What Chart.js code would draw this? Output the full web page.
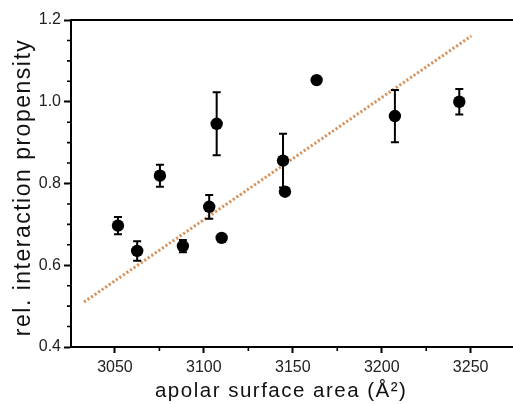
<!DOCTYPE html>
<html><head><meta charset="utf-8">
<script src="https://cdn.jsdelivr.net/npm/chart.js@4"></script>
<style>html,body{margin:0;padding:0;background:#fff;overflow:hidden}#wrap{width:513px;height:404px;position:relative}</style>
</head><body><div id="wrap"><canvas id="c" width="513" height="404"></canvas></div>
<script>
// ---- data ----
const surfaceArea = [3051.7, 3062.5, 3075.3, 3088.2, 3103.0, 3107.2, 3110.0, 3144.5, 3145.6, 3163.4, 3207.4, 3243.6];
const propensity  = [0.697, 0.635, 0.819, 0.647, 0.743, 0.946, 0.667, 0.856, 0.780, 1.053, 0.965, 1.000];
const errorBars   = [0.021, 0.024, 0.027, 0.015, 0.029, 0.077, 0, 0.066, 0, 0, 0.064, 0.031];
const trendX = [3032.6, 3250.4];
const trendY = [0.510, 1.161];
const xTickValues = [3050, 3100, 3150, 3200, 3250];
const xMinorValues = [3075, 3125, 3175, 3225];
const yTickValues = [0.4, 0.6, 0.8, 1.0, 1.2];
const yMinorValues = [0.45, 0.5, 0.55, 0.65, 0.7, 0.75, 0.85, 0.9, 0.95, 1.05, 1.1, 1.15];
const xTitle = 'apolar surface area (Å²)';
const yTitle = 'rel. interaction propensity';

const FONT = "'Liberation Sans', Arial, Helvetica, sans-serif";

const pts = surfaceArea.map((x, i) => ({x, y: propensity[i]}));
const trend = trendX.map((x, i) => ({x, y: trendY[i]}));

const spacingPlugin = {
  id: 'spacing',
  beforeDraw(chart) { chart.ctx.letterSpacing = '1.5px'; },
  beforeDatasetsDraw(chart) { chart.ctx.letterSpacing = '0px'; }
};

const decoPlugin = {
  id: 'deco',
  afterDatasetsDraw(chart) {
    const ctx = chart.ctx, xs = chart.scales.x, ys = chart.scales.y, a = chart.chartArea;
    ctx.save();
    ctx.strokeStyle = '#000';
    ctx.lineWidth = 2;
    surfaceArea.forEach((x, i) => {
      const e = errorBars[i];
      if (!e) return;
      const px = xs.getPixelForValue(x);
      const top = ys.getPixelForValue(propensity[i] + e);
      const bot = ys.getPixelForValue(propensity[i] - e);
      ctx.beginPath();
      ctx.moveTo(px, top); ctx.lineTo(px, bot);
      ctx.moveTo(px - 4, top); ctx.lineTo(px + 4, top);
      ctx.moveTo(px - 4, bot); ctx.lineTo(px + 4, bot);
      ctx.stroke();
    });
    ctx.beginPath();
    ctx.moveTo(a.left - 1, a.top); ctx.lineTo(a.right, a.top);
    ctx.stroke();
    ctx.lineWidth = 1.6;
    ctx.beginPath();
    xMinorValues.forEach(v => {
      const px = xs.getPixelForValue(v);
      ctx.moveTo(px, a.bottom); ctx.lineTo(px, a.bottom + 4);
    });
    yMinorValues.forEach(v => {
      const py = ys.getPixelForValue(v);
      ctx.moveTo(a.left, py); ctx.lineTo(a.left - 4, py);
    });
    ctx.stroke();
    ctx.restore();
  }
};

new Chart(document.getElementById('c'), {
  type: 'scatter',
  data: {
    datasets: [
      {
        data: pts,
        backgroundColor: '#000',
        borderColor: '#000',
        pointRadius: 6.2,
        pointHoverRadius: 6.2,
        borderWidth: 0
      },
      {
        data: trend,
        showLine: true,
        borderColor: '#d8935c',
        borderWidth: 3,
        borderDash: [2.2, 2.1],
        borderCapStyle: 'butt',
        pointRadius: 0,
        fill: false
      }
    ]
  },
  options: {
    responsive: false,
    animation: false,
    events: [],
    layout: {autoPadding: false, padding: {top: 20, right: 0, left: 0, bottom: 0}},
    plugins: {legend: {display: false}, tooltip: {enabled: false}},
    scales: {
      x: {
        type: 'linear',
        min: 3025.3,
        max: 3273.8,
        afterFit(s) { s.height = 57; s.paddingLeft = 0; s.paddingRight = 0; },
        afterBuildTicks(s) { s.ticks = xTickValues.map(v => ({value: v})); },
        grid: {display: true, drawOnChartArea: false, drawTicks: true, tickLength: 6, tickWidth: 2, tickColor: '#000'},
        border: {display: true, color: '#000', width: 2},
        ticks: {z: 1, padding: 5, color: '#222', font: {family: FONT, size: 16}, maxRotation: 0, callback: v => String(v)},
        title: {display: true, text: xTitle + '   ', color: '#111', font: {family: FONT, size: 20.5}, padding: {top: 0, bottom: 0}}
      },
      y: {
        type: 'linear',
        min: 0.4,
        max: 1.2,
        afterFit(s) { s.width = 71; s.paddingTop = 0; s.paddingBottom = 0; },
        afterBuildTicks(s) { s.ticks = yTickValues.map(v => ({value: v})); },
        grid: {display: true, drawOnChartArea: false, drawTicks: true, tickLength: 7, tickWidth: 2, tickColor: '#000'},
        border: {display: true, color: '#000', width: 2},
        ticks: {z: 1, padding: 3, color: '#222', font: {family: FONT, size: 16}, callback: v => Number(v).toFixed(1)},
        title: {display: true, text: yTitle + ' ', color: '#111', font: {family: FONT, size: 23}, padding: {top: 10, bottom: 0}}
      }
    }
  },
  plugins: [spacingPlugin, decoPlugin]
});
</script>
</body></html>
